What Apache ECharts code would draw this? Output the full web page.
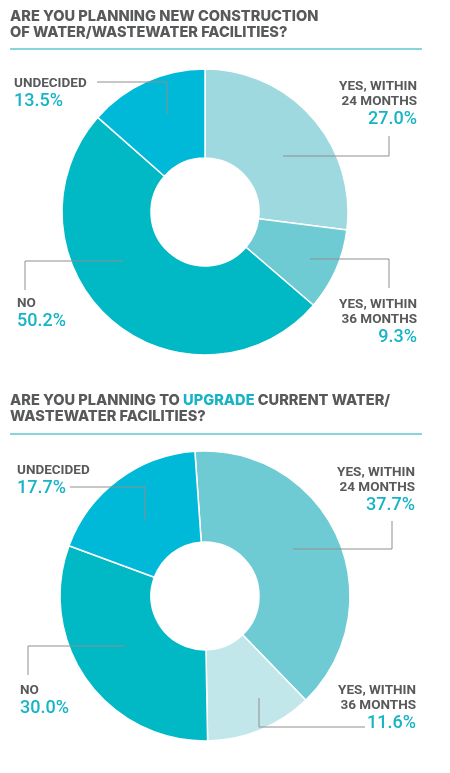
<!DOCTYPE html>
<html>
<head>
<meta charset="utf-8">
<script src="https://cdn.jsdelivr.net/npm/echarts@6/dist/echarts.min.js"></script>
<style>
	html, body { margin: 0; padding: 0; background: #fff; }
	#main { width: 450px; height: 773px; }
</style>
</head>
<body>
<div id="main"></div>
<script>
// 数据
var categories = ['YES, WITHIN\n24 MONTHS', 'YES, WITHIN\n36 MONTHS', 'NO', 'UNDECIDED'];
var newConstruction = [27.0, 9.3, 50.2, 13.5];
var upgrade = [37.7, 11.6, 30.0, 17.7];

// 配色
var colorsNew = ['#9dd9df', '#6fcbd3', '#00b9c4', '#00b9d9'];
var colorsUpgrade = ['#6fcbd3', '#c1e7eb', '#00b9c4', '#00b9d9'];

var gray = '#58595b';
var teal = '#17b4c6';
var font = 'Roboto';
var titleFont = 'Inter';

// 标签位置 (x, 顶部y, 对齐, 引导线)
var labelPos = [
	[
		{x: 417, y: 79, align: 'right', line: [[283, 156], [389, 156], [389, 136]]},
		{x: 417, y: 297, align: 'right', line: [[310, 259], [389, 259], [389, 288]]},
		{x: 17, y: 296.5, align: 'left', line: [[123, 261], [25, 261], [25, 290]]},
		{x: 14, y: 76.5, align: 'left', line: [[167, 114], [167, 82], [97, 82]]}
	],
	[
		{x: 415, y: 465.5, align: 'right', line: [[293, 549], [392, 549], [392, 521]]},
		{x: 416, y: 683.5, align: 'right', line: [[259, 698], [259, 727], [365, 727]]},
		{x: 20, y: 683, align: 'left', line: [[125, 646], [28, 646], [28, 675]]},
		{x: 17, y: 463, align: 'left', line: [[145, 520], [145, 487], [70, 487]]}
	]
];

function buildData(values, colors) {
	var arr = [];
	for (var i = 0; i < values.length; i++) {
		arr.push({
			name: categories[i],
			value: values[i],
			itemStyle: {color: colors ? colors[i] : 'rgba(0,0,0,0)'}
		});
	}
	return arr;
}

function labelText(p) {
	var lines = p.name.split('\n');
	var s = '';
	for (var i = 0; i < lines.length; i++) {
		s += '{n|' + lines[i] + '}\n';
	}
	return s + '{p|' + p.value.toFixed(1) + '%}';
}

// 环形图本体
function pieSeries(center, radius, startAngle, values, colors) {
	return {
		type: 'pie',
		center: center,
		radius: radius,
		startAngle: startAngle,
		silent: true,
		z: 2,
		itemStyle: {borderColor: '#fff', borderWidth: 1.5},
		emphasis: {disabled: true},
		label: {show: false},
		labelLine: {show: false},
		data: buildData(values, colors)
	};
}

// 透明的叠加层，只负责标签和引导线（画在扇区上面）
function labelSeries(idx, center, radius, startAngle, values) {
	return {
		type: 'pie',
		center: center,
		radius: radius,
		startAngle: startAngle,
		avoidLabelOverlap: false,
		silent: true,
		z: 3,
		itemStyle: {borderWidth: 0},
		emphasis: {disabled: true},
		label: {
			show: true,
			position: 'outside',
			formatter: labelText,
			rich: {
				n: {fontFamily: font, fontSize: 13.5, fontWeight: 'bold', color: gray, lineHeight: 15},
				p: {fontFamily: font, fontSize: 18, fontWeight: 500, color: teal, lineHeight: 20}
			}
		},
		labelLine: {
			show: true,
			lineStyle: {color: '#8f8f8f', width: 1}
		},
		labelLayout: function (params) {
			var pos = labelPos[idx][params.dataIndex];
			return {
				x: pos.x,
				y: pos.y,
				align: pos.align,
				verticalAlign: 'top',
				labelLinePoints: pos.line
			};
		},
		data: buildData(values, null)
	};
}

var titleStyle = {fontFamily: titleFont, fontSize: 14.6, fontWeight: 800, color: gray, lineHeight: 16};

var option = {
	animation: false,
	title: [{
		text: 'ARE YOU PLANNING NEW CONSTRUCTION\nOF WATER/WASTEWATER FACILITIES?',
		left: 10,
		top: 9,
		padding: 0,
		textStyle: titleStyle
	}, {
		text: '{a|ARE YOU PLANNING TO }{b|UPGRADE}{a| CURRENT WATER/}\n{a|WASTEWATER FACILITIES?}',
		left: 10,
		top: 392.5,
		padding: 0,
		textStyle: {
			fontFamily: titleFont, fontSize: 14.6, fontWeight: 800, lineHeight: 16,
			rich: {
				a: titleStyle,
				b: {fontFamily: titleFont, fontSize: 14.6, fontWeight: 800, color: teal, lineHeight: 16}
			}
		}
	}],
	graphic: [
		{type: 'line', shape: {x1: 10, y1: 49, x2: 422, y2: 49}, style: {stroke: '#5fc8d5', lineWidth: 1.5}},
		{type: 'line', shape: {x1: 10, y1: 434, x2: 422, y2: 434}, style: {stroke: '#5fc8d5', lineWidth: 1.5}}
	],
	series: [
		pieSeries([205, 212], [54, 143], 90, newConstruction, colorsNew),
		pieSeries([205, 596], [54, 145], 94, upgrade, colorsUpgrade),
		labelSeries(0, [205, 212], [54, 143], 90, newConstruction),
		labelSeries(1, [205, 596], [54, 145], 94, upgrade)
	]
};

var myChart = echarts.init(document.getElementById('main'));
myChart.setOption(option);
</script>
</body>
</html>
